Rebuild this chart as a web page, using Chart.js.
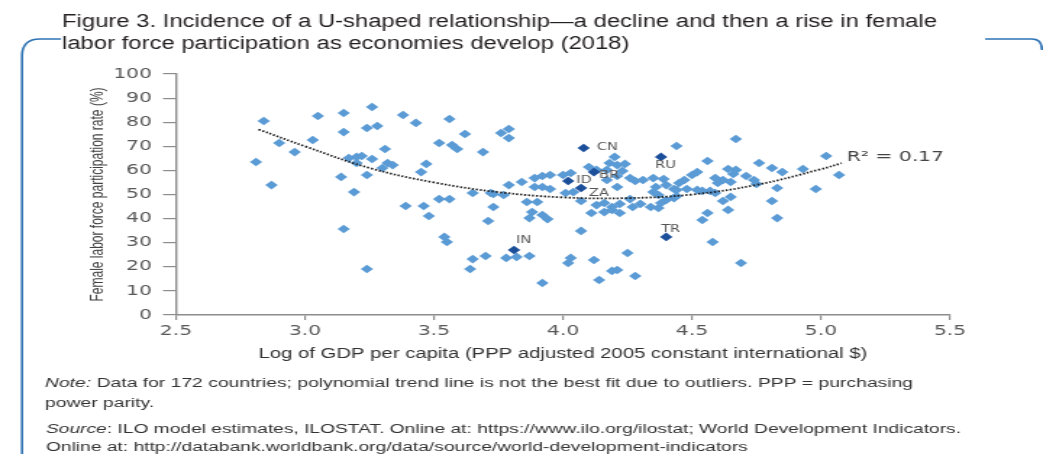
<!DOCTYPE html>
<html>
<head>
<meta charset="utf-8">
<script src="https://cdn.jsdelivr.net/npm/chart.js@4/dist/chart.umd.min.js"></script>
<style>
  html, body { margin: 0; padding: 0; background: #fff; overflow: hidden; }
  /* the figure is laid out on a 720px canvas and widened to the page width */
  #wrap { width: 720px; height: 454px; transform: scaleX(1.4486); transform-origin: 0 0; }
</style>
</head>
<body>
<div id="wrap"><canvas id="fig" width="720" height="454"></canvas></div>
<script>
// ---- data ---------------------------------------------------------------
// log GDP per capita (PPP, 2005 intl $) and female labour force participation (%)
const logGdp = [
  2.84, 3.05, 3.15, 3.26, 2.90, 2.96, 3.03, 3.15, 3.24, 3.28,
  2.81, 2.87, 3.17, 3.20, 3.22, 3.20, 3.14, 3.24, 3.19, 3.15,
  3.24, 3.38, 3.43, 3.56, 3.62, 3.52, 3.57, 3.59, 3.69, 3.31,
  3.26, 3.32, 3.34, 3.30, 3.47, 3.45, 3.65, 3.72, 3.39, 3.46,
  3.48, 3.52, 3.56, 3.71, 3.54, 3.55, 3.65, 3.70, 3.64, 3.79,
  3.76, 3.79, 4.10, 4.13, 3.89, 3.92, 3.95, 4.00, 4.03, 3.79,
  3.84, 3.89, 3.92, 3.95, 4.04, 4.01, 3.73, 3.77, 3.86, 3.90,
  4.07, 3.73, 3.88, 3.87, 3.92, 3.94, 4.11, 4.16, 4.19, 4.22,
  4.13, 4.16, 4.19, 4.22, 4.27, 4.07, 3.78, 3.82, 3.87, 4.03,
  4.02, 4.12, 4.19, 4.14, 3.92, 4.20, 4.18, 4.21, 4.24, 4.17,
  4.21, 4.17, 4.26, 4.28, 4.23, 4.21, 4.67, 4.44, 4.56, 4.50,
  4.52, 4.64, 4.66, 4.67, 4.62, 4.65, 4.59, 4.60, 4.31, 4.35,
  4.39, 4.40, 4.47, 4.45, 4.43, 4.36, 4.35, 4.37, 4.44, 4.48,
  4.52, 4.54, 4.57, 4.59, 4.44, 4.40, 4.43, 4.62, 4.65, 4.26,
  4.30, 4.34, 4.37, 4.38, 4.64, 4.56, 4.54, 4.58, 4.25, 4.21,
  4.28, 4.69, 5.02, 4.76, 4.81, 4.85, 4.93, 5.07, 4.71, 4.74,
  4.75, 4.83, 4.98, 4.81, 4.83
];
const femaleLfp = [
  80.5, 82.6, 83.8, 86.3, 71.4, 67.6, 72.6, 75.9, 77.6, 78.4,
  63.5, 53.9, 65.1, 65.6, 66.0, 63.1, 57.3, 58.1, 51.0, 35.7,
  19.1, 83.0, 79.7, 81.3, 75.1, 71.4, 70.5, 68.9, 67.6, 68.9,
  64.7, 63.1, 62.2, 61.0, 62.7, 59.3, 50.6, 50.6, 45.2, 45.2,
  41.1, 48.1, 48.1, 39.0, 32.4, 30.3, 23.2, 24.5, 19.1, 77.2,
  75.5, 73.4, 61.4, 60.2, 56.8, 57.7, 58.1, 58.1, 58.9, 53.9,
  55.2, 53.1, 53.1, 52.3, 51.0, 50.6, 50.2, 49.8, 46.9, 46.9,
  47.3, 44.8, 42.7, 40.2, 41.5, 39.8, 42.3, 42.7, 43.6, 42.3,
  45.6, 46.5, 44.8, 46.1, 44.8, 34.9, 23.7, 24.1, 24.5, 23.7,
  21.6, 22.8, 18.3, 14.5, 13.3, 65.6, 63.1, 62.2, 62.7, 60.2,
  53.1, 56.0, 56.8, 55.6, 59.8, 57.7, 73.0, 70.1, 63.9, 58.1,
  59.3, 60.6, 58.5, 60.2, 56.0, 55.2, 56.8, 54.8, 56.0, 56.8,
  56.4, 53.9, 56.0, 54.8, 52.3, 53.1, 51.0, 49.8, 51.9, 52.3,
  51.9, 51.5, 51.5, 50.6, 49.4, 47.7, 48.5, 47.3, 49.0, 48.1,
  46.1, 44.8, 44.4, 46.5, 43.6, 42.3, 39.4, 30.3, 25.7, 18.7,
  16.2, 21.6, 66.0, 63.1, 61.0, 59.3, 60.6, 58.1, 57.7, 56.0,
  54.4, 52.7, 52.3, 47.3, 40.2
];

// highlighted economies
const markedCodes = ['CN', 'ID', 'BR', 'ZA', 'IN', 'RU', 'TR'];
const markedLogGdp = [4.08, 4.02, 4.12, 4.07, 3.81, 4.38, 4.40];
const markedLfp = [69.3, 55.6, 59.3, 52.7, 27.0, 65.6, 32.4];

// polynomial trend line, read at these x positions
const trendX = [2.82, 3.0, 3.25, 3.5, 3.75, 4.0, 4.25, 4.5, 4.75, 5.0, 5.08];
const trendY = [77.0, 70.0, 61.0, 55.0, 51.0, 48.8, 48.5, 50.0, 54.0, 60.5, 63.0];
const rSquared = 'R\u00b2 = 0.17';

const xTicks = [2.5, 3.0, 3.5, 4.0, 4.5, 5.0, 5.5];
const yTicks = [0, 10, 20, 30, 40, 50, 60, 70, 80, 90, 100];

const titleLines = [
  'Figure 3. Incidence of a U-shaped relationship\u2014a decline and then a rise in female',
  'labor force participation as economies develop (2018)'
];
const xTitle = 'Log of GDP per capita (PPP adjusted 2005 constant international $)';
const yTitle = 'Female labor force participation rate (%)';
const noteLines = [
  [['Note:', true], [' Data for 172 countries; polynomial trend line is not the best fit due to outliers. PPP = purchasing', false]],
  [['power parity.', false]]
];
const sourceLines = [
  [['Source', true], [': ILO model estimates, ILOSTAT. Online at: https://www.ilo.org/ilostat; World Development Indicators.', false]],
  [['Online at: http://databank.worldbank.org/data/source/world-development-indicators', false]]
];

// ---- layout helpers -----------------------------------------------------
const STRETCH = 1043 / 720;          // horizontal widening applied by CSS
const px = v => v / STRETCH;         // page x -> canvas x

// label offsets (canvas px) for the highlighted economies
const markOffsets = {
  CN: [9, -1], ID: [5.5, -1], BR: [3.5, 3], ZA: [5.5, 5],
  IN: [1.4, -10], RU: [-4, 9], TR: [-3.5, -8]
};

function runsToFont(runs, size) {
  return runs.map(r => ({
    text: r[0],
    font: (r[1] ? 'italic ' : '') + size + "px 'Liberation Sans', Arial, sans-serif"
  }));
}
function runsWidth(ctx, runs) {
  let w = 0;
  runs.forEach(r => { ctx.font = r.font; w += ctx.measureText(r.text).width; });
  return w;
}
function drawRuns(ctx, runs, x, y, sx) {
  ctx.save();
  ctx.translate(x, y);
  ctx.scale(sx, 1);
  let cx = 0;
  runs.forEach(r => {
    ctx.font = r.font;
    ctx.fillText(r.text, cx, 0);
    cx += ctx.measureText(r.text).width;
  });
  ctx.restore();
}

const figurePlugin = {
  id: 'figureText',
  beforeDraw(chart) {
    const ctx = chart.ctx;
    ctx.save();
    ctx.fillStyle = '#ffffff';
    ctx.fillRect(0, 0, chart.width, chart.height);
    ctx.restore();
  },
  afterDraw(chart) {
    const ctx = chart.ctx;
    ctx.save();

    // blue frame pieces
    ctx.strokeStyle = '#2f74b5';
    ctx.lineWidth = 1.6;
    ctx.beginPath();
    ctx.moveTo(px(61), 39);
    ctx.lineTo(px(40), 39);
    ctx.quadraticCurveTo(px(22), 39, px(22), 56);
    ctx.lineTo(px(22), 460);
    ctx.stroke();
    ctx.beginPath();
    ctx.moveTo(px(985), 39);
    ctx.lineTo(px(1032), 39);
    ctx.quadraticCurveTo(px(1042), 39, px(1042), 50);
    ctx.stroke();

    ctx.textAlign = 'left';
    ctx.textBaseline = 'middle';

    // title
    ctx.fillStyle = '#231f20';
    const t1 = runsToFont([[titleLines[0], false]], 18);
    const t2 = runsToFont([[titleLines[1], false]], 18);
    const tsx = px(875) / runsWidth(ctx, t1);
    drawRuns(ctx, t1, px(62), 22, tsx);
    drawRuns(ctx, t2, px(62), 44, tsx);

    // note and source
    ctx.fillStyle = '#333333';
    const n1 = runsToFont(noteLines[0], 12.5);
    const nsx = px(868) / runsWidth(ctx, n1);
    drawRuns(ctx, n1, px(45), 384, nsx);
    drawRuns(ctx, runsToFont(noteLines[1], 12.5), px(45), 404, nsx);
    const s1 = runsToFont(sourceLines[0], 12.5);
    const ssx = px(915) / runsWidth(ctx, s1);
    drawRuns(ctx, s1, px(46), 430, ssx);
    drawRuns(ctx, runsToFont(sourceLines[1], 12.5), px(46), 448, ssx);

    // R-squared next to the end of the trend line
    const xs = chart.scales.x, ys = chart.scales.y;
    ctx.fillStyle = '#444444';
    ctx.font = "14px 'DejaVu Sans', sans-serif";
    ctx.fillText(rSquared,
      xs.getPixelForValue(trendX[trendX.length - 1]) + 3.5,
      ys.getPixelForValue(trendY[trendY.length - 1]) - 6);

    // economy codes beside the highlighted markers
    ctx.fillStyle = '#555555';
    ctx.font = "10px 'DejaVu Sans', sans-serif";
    const meta = chart.getDatasetMeta(1);
    markedCodes.forEach((code, i) => {
      const pt = meta.data[i];
      const off = markOffsets[code];
      ctx.fillText(code, pt.x + off[0], pt.y + off[1]);
    });
    ctx.restore();
  }
};

const axisGrey = '#8c8c8c';
const tickFont = { family: "'DejaVu Sans', sans-serif", size: 14 };

new Chart(document.getElementById('fig'), {
  type: 'scatter',
  data: {
    datasets: [
      {
        label: 'Trend',
        data: trendX.map((x, i) => ({ x, y: trendY[i] })),
        showLine: true,
        borderColor: '#1a1a1a',
        borderWidth: 1.8,
        borderDash: [1.4, 1.4],
        tension: 0.4,
        pointRadius: 0,
        fill: false
      },
      {
        label: 'Highlighted',
        data: markedLogGdp.map((x, i) => ({ x, y: markedLfp[i] })),
        pointStyle: 'rectRot',
        pointRadius: 4.3,
        backgroundColor: '#1c4f9a',
        borderWidth: 0
      },
      {
        label: 'Countries',
        data: logGdp.map((x, i) => ({ x, y: femaleLfp[i] })),
        pointStyle: 'rectRot',
        pointRadius: 4.3,
        backgroundColor: '#5b9bd5',
        borderWidth: 0
      }
    ]
  },
  options: {
    responsive: false,
    maintainAspectRatio: false,
    animation: false,
    devicePixelRatio: 1,
    layout: { padding: { left: 56, top: 74, right: 64.2, bottom: 79 } },
    plugins: { legend: { display: false }, tooltip: { enabled: false } },
    scales: {
      x: {
        type: 'linear',
        min: xTicks[0],
        max: xTicks[xTicks.length - 1],
        afterBuildTicks: s => { s.ticks = xTicks.map(v => ({ value: v })); },
        afterFit: s => { s.height = 60; },
        ticks: {
          font: tickFont, color: '#595959', padding: 2.6,
          callback: v => v.toFixed(1), maxRotation: 0, autoSkip: false
        },
        grid: { display: true, drawOnChartArea: false, drawTicks: true, tickLength: 5, color: axisGrey, lineWidth: 1.2 },
        border: { display: true, color: axisGrey, width: 1.4 },
        title: {
          display: true, text: xTitle, color: '#333333',
          font: { family: "'Liberation Sans', Arial, sans-serif", size: 14 },
          padding: { top: 0, bottom: 12.6 }
        }
      },
      y: {
        min: yTicks[0],
        max: yTicks[yTicks.length - 1],
        afterBuildTicks: s => { s.ticks = yTicks.map(v => ({ value: v })); },
        afterFit: s => { s.width = 65.5; },
        ticks: { font: tickFont, color: '#595959', padding: 7.6, autoSkip: false },
        grid: { display: true, drawOnChartArea: false, drawTicks: true, tickLength: 9, color: axisGrey, lineWidth: 1.2 },
        border: { display: true, color: axisGrey, width: 1.4 },
        title: {
          display: true, text: yTitle, color: '#404040',
          font: { family: "'Liberation Sans', Arial, sans-serif", size: 12 },
          padding: { top: 4, bottom: 0 }
        }
      }
    }
  },
  plugins: [figurePlugin]
});
</script>
</body>
</html>
